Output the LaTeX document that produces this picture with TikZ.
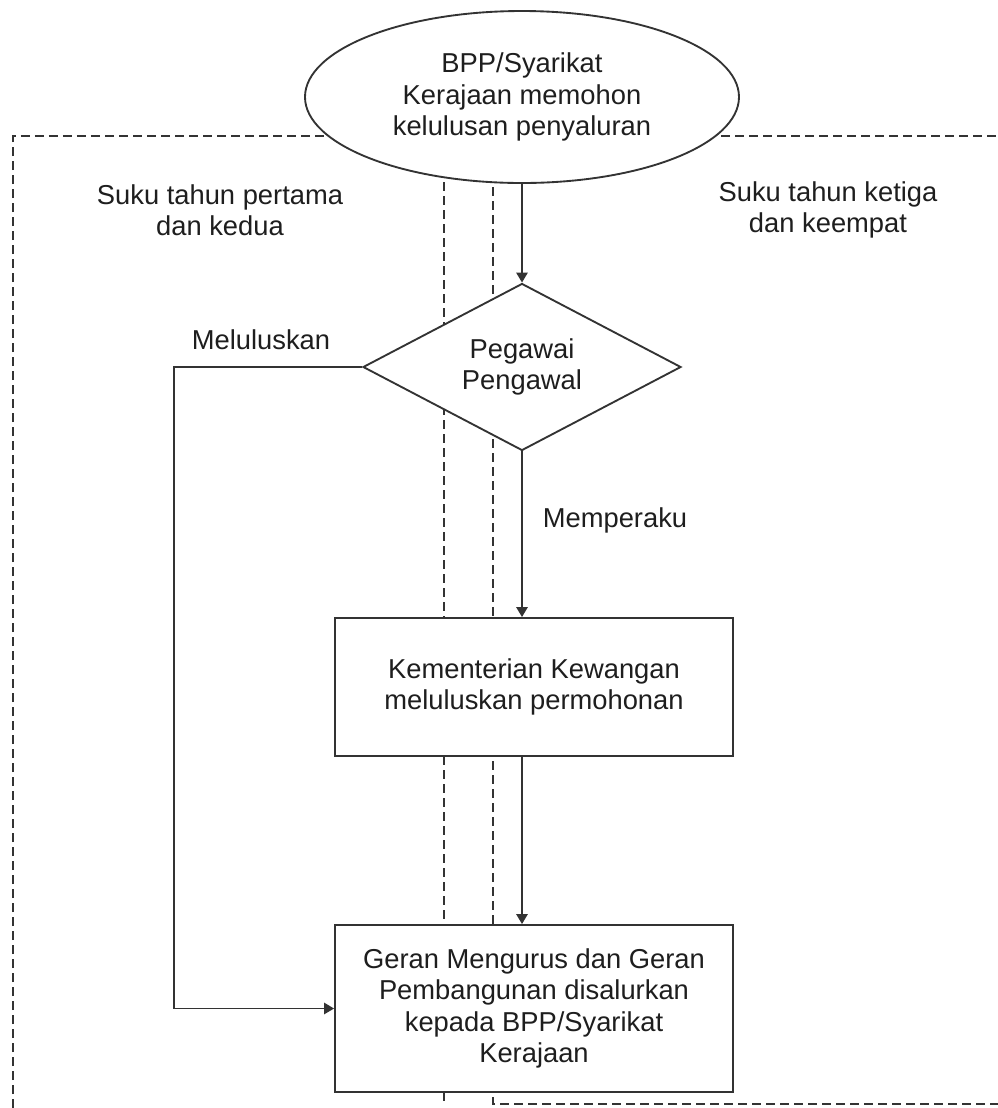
\documentclass[tikz,border=0pt]{standalone}
\usepackage{fontspec}
\setmainfont{Liberation Sans}
\usetikzlibrary{shapes.geometric,arrows.meta}
\pgfdeclarelayer{paper}
\pgfdeclarelayer{zones}
\pgfsetlayers{paper,zones,main}
\definecolor{ln}{HTML}{333333}
\definecolor{tx}{HTML}{1E1E1E}
\begin{document}
\begin{tikzpicture}[x=0.75pt,y=-0.75pt,
  every node/.style={font=\fontsize{20.5}{23.5}\selectfont, text=tx},
  shapebox/.style={draw=ln, line width=1.4pt, fill=white, inner sep=0pt, align=center},
  flow/.style={draw=ln, line width=1.4pt, -{Triangle[length=7.5pt,width=8.5pt]}},
  zone/.style={draw=ln, line width=1.3pt, dash pattern=on 6.5pt off 4pt},
  lbl/.style={align=center, inner sep=0pt}]
\useasboundingbox (0,0) rectangle (998,1108);
\begin{pgfonlayer}{paper}
\fill[white] (0,0) rectangle (998,1108);
\end{pgfonlayer}

% main shapes
\node[shapebox, ellipse, minimum width=325.5pt, minimum height=129pt] (ell) at (522,97)
  {BPP/Syarikat\\Kerajaan memohon\\kelulusan penyaluran};
\node[shapebox, diamond, aspect=1.9, minimum width=238.5pt, minimum height=125.25pt] (dia) at (522,367)
  {Pegawai\\Pengawal};
\node[shapebox, rectangle, minimum width=298.5pt, minimum height=103.5pt] (b1) at (534,687)
  {Kementerian Kewangan\\meluluskan permohonan};
\node[shapebox, rectangle, minimum width=298.5pt, minimum height=125.25pt] (b2) at (534,1008.5)
  {Geran Mengurus dan Geran\\Pembangunan disalurkan\\kepada BPP/Syarikat\\Kerajaan};

% labels
\node[lbl] (s12) at (220,210) {Suku tahun pertama\\dan kedua};
\node[lbl] (s34) at (828,210) {Suku tahun ketiga\\dan keempat};
\node[lbl] (lulus) at (261,340) {Meluluskan};
\node[lbl] (peraku) at (615,520) {Memperaku};

% zone boundaries (dashed)
\coordinate (zl0) at (13,1108);
\coordinate (zl1) at (13,136);
\coordinate (zr1) at (998,136);
\coordinate (za0) at (444,182);
\coordinate (za1) at (444,1101);
\coordinate (zb0) at (493,187);
\coordinate (zb1) at (493,1104);
\coordinate (zb2) at (998,1104);
\begin{pgfonlayer}{zones}
\draw[zone] (zl0) -- (zl1) -- (zr1);
\draw[zone] (za0) -- (za1);
\draw[zone] (zb0) -- (zb1) -- (zb2);
\end{pgfonlayer}

% flow connectors
\coordinate (lc) at (174,367);
\draw[flow] (ell.south) -- (dia.north);
\draw[flow] (dia.south) -- (dia.south |- b1.north);
\draw[flow] (b1.south -| dia.south) -- (b2.north -| dia.south);
\draw[flow] (dia.west) -- (lc) |- (b2.west);
\end{tikzpicture}
\end{document}
